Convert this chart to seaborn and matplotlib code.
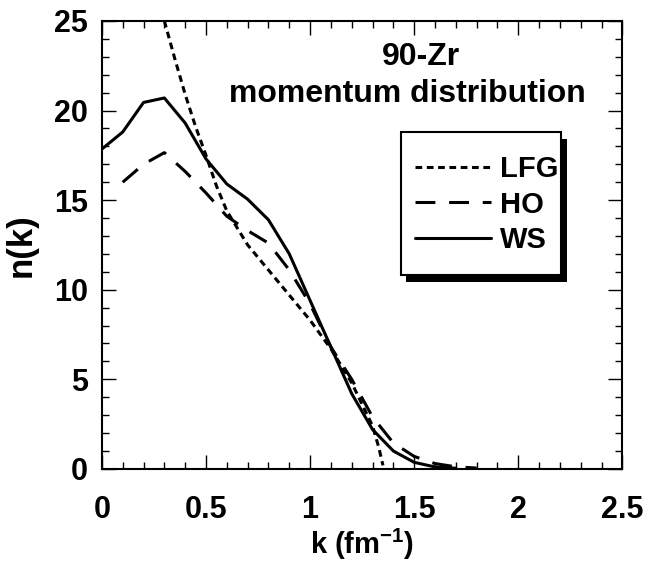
import numpy as np
import pandas as pd
import matplotlib
matplotlib.use("Agg")
import matplotlib.pyplot as plt
import seaborn as sns
from matplotlib.patches import Rectangle
from matplotlib.ticker import MultipleLocator

# momentum distribution of 90-Zr
k_lfg = [0.30, 0.35, 0.40, 0.45, 0.50, 0.55, 0.60, 0.70, 0.80, 0.90, 1.00, 1.10, 1.20, 1.30, 1.33, 1.35]
n_lfg = [25.0, 22.9, 20.9, 19.1, 17.5, 15.8, 14.4, 12.5, 11.1, 9.7, 8.3, 6.7, 4.8, 2.4, 1.2, 0.2]

k_ho = [0.1, 0.2, 0.3, 0.4, 0.5, 0.6, 0.7, 0.8, 0.9, 1.0, 1.1, 1.2, 1.3, 1.4, 1.5, 1.6, 1.7, 1.8]
n_ho = [16.0, 17.0, 17.65, 16.6, 15.4, 14.1, 13.3, 12.6, 11.1, 9.2, 6.8, 5.0, 2.9, 1.45, 0.7, 0.3, 0.12, 0.05]

k_ws = [0.0, 0.1, 0.2, 0.3, 0.4, 0.5, 0.6, 0.7, 0.8, 0.9, 1.0, 1.1, 1.2, 1.3, 1.4, 1.5, 1.6, 1.7]
n_ws = [17.85, 18.8, 20.45, 20.7, 19.3, 17.3, 15.9, 15.05, 13.9, 12.0, 9.4, 6.8, 4.2, 2.2, 1.0, 0.37, 0.11, 0.04]

labels = ["LFG", "HO", "WS"]
xticks = [0, 0.5, 1, 1.5, 2, 2.5]
xticklabels = ["0", "0.5", "1", "1.5", "2", "2.5"]

sns.set_theme(style="ticks")
plt.rcParams["font.family"] = ["Liberation Sans", "DejaVu Sans"]
plt.rcParams["font.weight"] = "bold"
plt.rcParams["axes.labelweight"] = "bold"
plt.rcParams["text.color"] = "black"
plt.rcParams["axes.labelcolor"] = "black"
plt.rcParams["xtick.color"] = "black"
plt.rcParams["ytick.color"] = "black"
plt.rcParams["mathtext.fontset"] = "custom"
plt.rcParams["mathtext.rm"] = "Liberation Sans:bold"
plt.rcParams["mathtext.bf"] = "Liberation Sans:bold"

fig = plt.figure(figsize=(6.49, 5.65), dpi=100)
ax = fig.add_axes([0.157, 0.170, 0.802, 0.793])

sns.lineplot(x=k_lfg, y=n_lfg, ax=ax, color="black", lw=2.2, linestyle=(0, (2.2, 1.5)), label=labels[0], sort=False)
sns.lineplot(x=k_ho, y=n_ho, ax=ax, color="black", lw=2.2, linestyle=(0, (6.5, 4.5)), label=labels[1], sort=False)
sns.lineplot(x=k_ws, y=n_ws, ax=ax, color="black", lw=2.2, linestyle="-", label=labels[2], sort=False)

ax.set_xlim(0, 2.5)
ax.set_ylim(0, 25)
ax.xaxis.set_minor_locator(MultipleLocator(0.1))
ax.yaxis.set_major_locator(MultipleLocator(5))
ax.yaxis.set_minor_locator(MultipleLocator(1))
ax.set_xticks(xticks)
ax.set_xticklabels(xticklabels)
ax.tick_params(which="both", direction="in", top=True, right=True, color="black", labelcolor="black", width=1.0)
ax.tick_params(which="major", length=10, labelsize=22)
ax.tick_params(which="minor", length=5)
ax.tick_params(axis="x", which="major", pad=19)
ax.tick_params(axis="y", which="major", pad=10)
for sp in ax.spines.values():
    sp.set_linewidth(1.5)
    sp.set_color("black")

ax.set_xlabel(r"k (fm$^{\mathbf{-1}}$)", fontsize=21, fontweight="bold", labelpad=1, color="black")
ax.set_ylabel("n(k)", fontsize=25, fontweight="bold", labelpad=12, color="black")

ax.text(0.613, 0.920, "90-Zr", transform=ax.transAxes, ha="center", va="center", fontsize=23, fontweight="bold", color="black")
ax.text(0.587, 0.837, "momentum distribution", transform=ax.transAxes, ha="center", va="center", fontsize=23, fontweight="bold", color="black")

# legend box with a drop shadow
ax.add_patch(Rectangle((0.585, 0.418), 0.308, 0.319, transform=ax.transAxes, facecolor="black", edgecolor="none", zorder=4))
ax.add_patch(Rectangle((0.574, 0.433), 0.308, 0.319, transform=ax.transAxes, facecolor="white", edgecolor="black", lw=1.5, zorder=5))

leg = ax.legend(loc="upper left", bbox_to_anchor=(0.602, 0.700), frameon=False,
                prop={"weight": "bold", "size": 21}, labelcolor="black",
                handlelength=2.6, handletextpad=0.3, labelspacing=0.25, borderpad=0, borderaxespad=0)
leg.set_zorder(6)

fig.savefig("out.png", dpi=100)
